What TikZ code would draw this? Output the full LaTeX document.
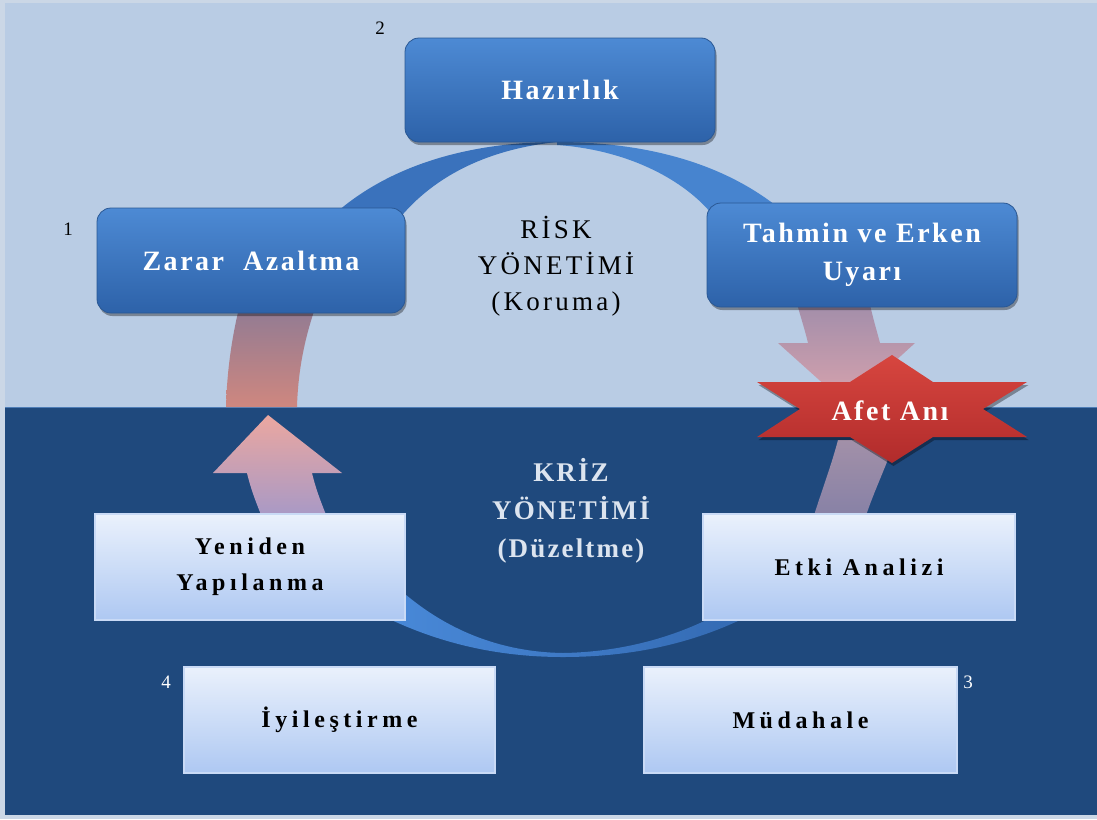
\documentclass[tikz,border=0pt]{standalone}
\usepackage{fontspec}
\setmainfont{Liberation Serif}
\newfontfamily\boxfont[LetterSpace=9]{Liberation Serif}
\newfontfamily\lightfont[LetterSpace=19]{Liberation Serif}
\newfontfamily\riskfont[LetterSpace=12]{Liberation Serif}
\newfontfamily\krizfont[LetterSpace=8]{Liberation Serif}
\usetikzlibrary{shadows}
\definecolor{frameC}{HTML}{CBD7E6}
\definecolor{lightBG}{HTML}{B9CCE4}
\definecolor{darkBG}{HTML}{1F497D}
\definecolor{sepLine}{HTML}{4E7DB6}
\definecolor{tbTop}{HTML}{4D8AD4}
\definecolor{tbBot}{HTML}{2D62A9}
\definecolor{tbLine}{HTML}{2A5894}
\definecolor{lbTop}{HTML}{EAF1FC}
\definecolor{lbBot}{HTML}{AEC8F2}
\definecolor{lbLine}{HTML}{C9DAF6}
\definecolor{arcL}{HTML}{3A72BC}
\definecolor{arcR}{HTML}{4784CF}
\definecolor{arcBL}{HTML}{4B8CDC}
\definecolor{arcBR}{HTML}{3268B0}
\definecolor{pinkTop}{HTML}{8C7A95}
\definecolor{pinkBot}{HTML}{CF877F}
\definecolor{arTip}{HTML}{EBA7A0}
\definecolor{arBase}{HTML}{A498C8}
\definecolor{rTop}{HTML}{A08DAA}
\definecolor{rBot}{HTML}{D9A3AD}
\definecolor{lowTop}{HTML}{A290A8}
\definecolor{lowBot}{HTML}{8580A6}
\definecolor{starTop}{HTML}{D7463F}
\definecolor{starBot}{HTML}{B12B2B}
\definecolor{krizC}{HTML}{DCE4EF}
\begin{document}
\begin{tikzpicture}[x=1pt,y=-1pt,
  topbox/.style={rounded corners=14, top color=tbTop, bottom color=tbBot,
    draw=tbLine, line width=0.8, minimum width=310, minimum height=104,
    inner sep=0, text=white, align=center,
    font=\boxfont\bfseries\fontsize{28}{38}\selectfont,
    drop shadow={shadow xshift=1.5pt, shadow yshift=-3pt, opacity=0.35, fill=black}},
  lightbox/.style={top color=lbTop, bottom color=lbBot, draw=lbLine,
    line width=1.5, minimum width=310, minimum height=106, inner sep=0,
    text=black, align=center, font=\lightfont\bfseries\fontsize{24}{36}\selectfont},
  numlbl/.style={font=\fontsize{19}{22}\selectfont, inner sep=0},
  titlelbl/.style={align=center, inner sep=0},
  starred/.style={top color=starTop, bottom color=starBot,
    drop shadow={shadow xshift=1.5pt, shadow yshift=-3pt, opacity=0.35, fill=black}}
]
\useasboundingbox (0,0) rectangle (1097,819);
% backgrounds
\fill[frameC] (0,0) rectangle (1097,819);
\fill[lightBG] (5,3) rectangle (1097,407);
\fill[darkBG] (5,407) rectangle (1097,815);
\draw[sepLine, line width=1.5] (5,407.5) -- (1097,407.5);

% ring: top-left and top-right crescents
\fill[arcL] (320,228) .. controls (380,165) and (470,142) .. (557,142)
  .. controls (480,150) and (425,182) .. (392,228) -- cycle;
\fill[arcR] (557,142) .. controls (650,142) and (735,165) .. (795,222)
  -- (718,222) .. controls (690,182) and (630,150) .. (557,145) -- cycle;
% bottom crescent
\shade[left color=arcBL, right color=arcBR]
  (350,598) .. controls (420,640) and (490,657) .. (563,657)
  .. controls (640,657) and (710,640) .. (772,603)
  -- (745,598) .. controls (690,635) and (625,652) .. (563,653)
  .. controls (500,652) and (445,630) .. (398,588) -- cycle;

% left pink band (light area)
\shade[top color=pinkTop, bottom color=pinkBot]
  (241,300) .. controls (232,335) and (227,370) .. (226,407)
  -- (297,407) .. controls (298,370) and (305,335) .. (318,300) -- cycle;
% left upward arrow (dark area)
\shade[top color=arTip, bottom color=arBase]
  (264,522) .. controls (257,505) and (251,490) .. (247,473)
  -- (213,473) -- (268,415) -- (342,473) -- (312,473)
  .. controls (316,490) and (322,505) .. (329,522) -- cycle;
% right downward arrow (light area)
\shade[top color=rTop, bottom color=rBot]
  (796,300) .. controls (800,315) and (805,330) .. (808,343)
  -- (778,343) -- (847,405) -- (915,343) -- (880,343)
  .. controls (876,328) and (872,315) .. (869,300) -- cycle;
% band below the star
\shade[top color=lowTop, bottom color=lowBot]
  (838,440) .. controls (830,470) and (820,495) .. (812,522)
  -- (864,522) .. controls (872,495) and (885,470) .. (895,440) -- cycle;

% star
\path[starred] (757,382) -- (850,382) -- (892,355) -- (933,382) -- (1027,382)
  -- (983,409) -- (1027,437) -- (933,437) -- (892,463) -- (850,437)
  -- (757,437) -- (800,409) -- cycle;
\node[text=white, font=\boxfont\bfseries\fontsize{28}{30}\selectfont, inner sep=0]
  (afet) at (890,411) {Afet Anı};

% blue boxes
\node[topbox] (haz) at (560,90) {Hazırlık};
\node[topbox, minimum width=308, minimum height=105] (zarar) at (251,260.5) {Zarar~ Azaltma};
\node[topbox] (tahmin) at (862,255) {Tahmin ve Erken\\Uyarı};

% light boxes
\node[lightbox] (yeniden) at (250,567) {Yeniden\\Yapılanma};
\node[lightbox, minimum width=312] (etki) at (859,567) {Etki Analizi};
\node[lightbox, minimum width=311] (iyi) at (339.5,720) {İyileştirme};
\node[lightbox, minimum width=313] (mud) at (800.5,720) {Müdahale};

% numbers
\node[numlbl] (n1) at (68,229) {1};
\node[numlbl] (n2) at (380,28) {2};
\node[numlbl, text=white] (n3) at (968,682) {3};
\node[numlbl, text=white] (n4) at (166,682) {4};

% titles
\node[titlelbl, font=\riskfont\fontsize{27}{36}\selectfont] (risk) at (556,266)
  {RİSK\\YÖNETİMİ\\(Koruma)};
\node[titlelbl, text=krizC, font=\krizfont\bfseries\fontsize{27}{38}\selectfont] (kriz) at (571,511)
  {KRİZ\\YÖNETİMİ\\(Düzeltme)};
\end{tikzpicture}
\end{document}
